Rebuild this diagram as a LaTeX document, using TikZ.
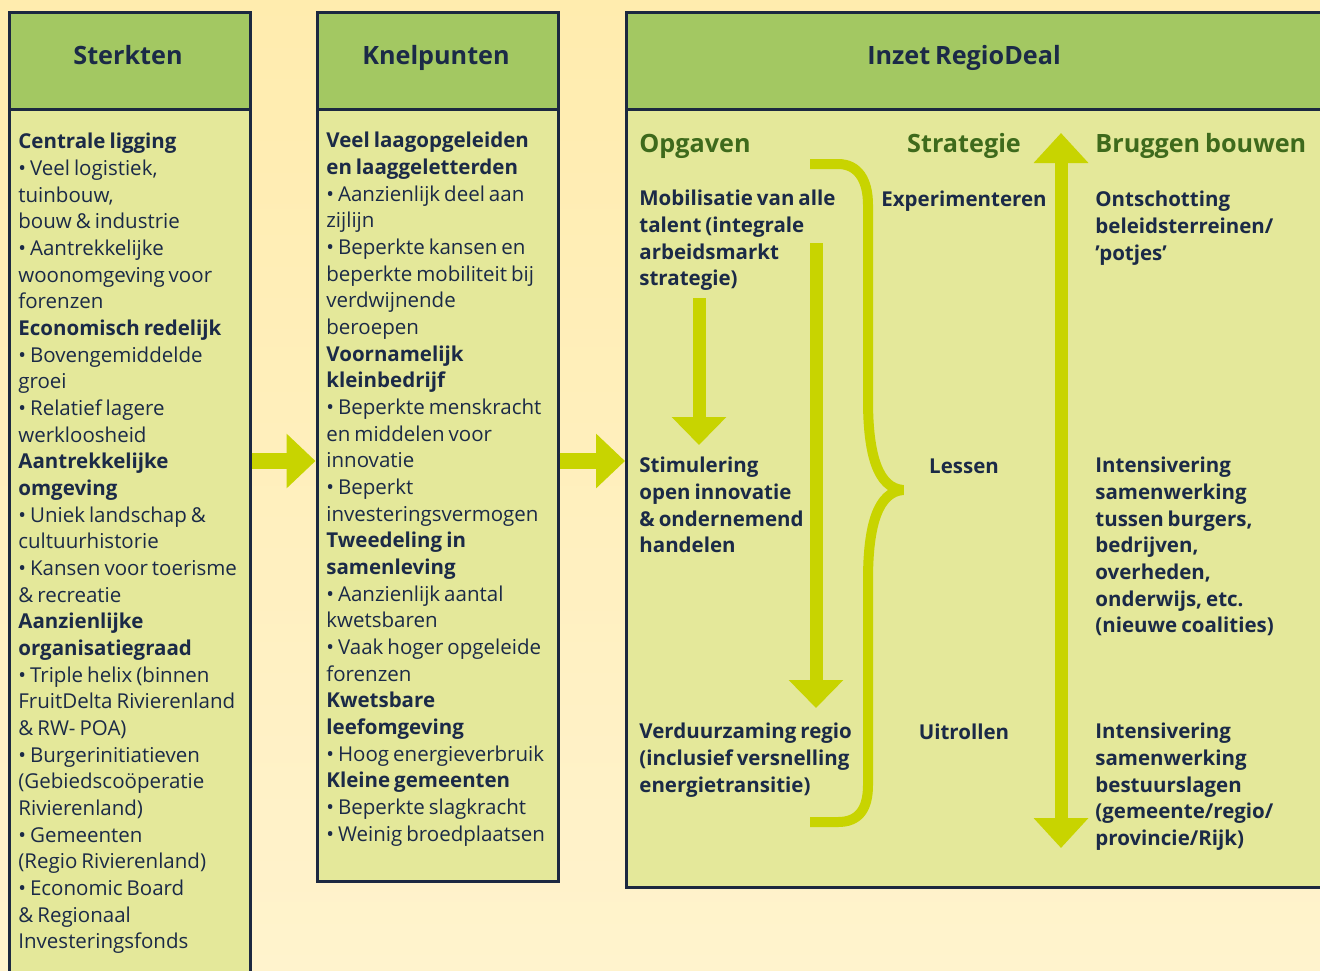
\documentclass[tikz,border=0pt]{standalone}
\usepackage{fontspec}
\setmainfont{Open Sans}[WordSpace=0.75]
\usetikzlibrary{arrows.meta}
\definecolor{achter}{HTML}{FFECAE}
\definecolor{achterlicht}{HTML}{FFF3CD}
\definecolor{kopgroen}{HTML}{A3C862}
\definecolor{vak}{HTML}{E4E89A}
\definecolor{rand}{HTML}{1C2840}
\definecolor{inkt}{HTML}{1B2A47}
\definecolor{blad}{HTML}{3E6A1C}
\definecolor{lime}{HTML}{C8D400}
\tikzset{
  kolom/.style={draw=rand, line width=1.5pt, fill=vak, anchor=north west, inner sep=0pt},
  kopvak/.style={kolom, fill=kopgroen},
  titel/.style={anchor=base, inner sep=0pt, text=inkt, font=\fontsize{12.6}{15}\selectfont\bfseries},
  sub/.style={titel, text=blad},
  tekst/.style={anchor=north west, inner sep=0pt, align=left, text=inkt, font=\fontsize{10.25}{13.33}\selectfont},
  vet/.style={tekst, font=\fontsize{10.25}{13.33}\selectfont\bfseries},
  pijl/.style={draw=lime, line width=8pt, -{Triangle[length=14.5pt,width=26.5pt]}},
  pijlsmal/.style={draw=lime, line width=6.5pt, -{Triangle[length=14pt,width=26.5pt]}},
}

\begin{document}
\begin{tikzpicture}[x=0.5pt,y=-0.5pt]
    \useasboundingbox (0,0) rectangle (1320,970);
    \clip (0,0) rectangle (1320,970);
    \shade[top color=achter, middle color=achter, bottom color=achterlicht] (0,0) rectangle (1320,970);
    % kolommen
    \node[kolom, minimum width=120.5pt, minimum height=494.75pt] (sterk) at (7.5,10.5) {};
    \node[kolom, minimum width=120.5pt, minimum height=434.75pt] (knel) at (315.5,10.5) {};
    \node[kolom, minimum width=352.5pt, minimum height=437.75pt] (inzet) at (625,10.5) {};
    \node[kopvak, minimum width=120.5pt, minimum height=48.5pt] (sterkkop) at (7.5,10.5) {};
    \node[kopvak, minimum width=120.5pt, minimum height=48.5pt] (knelkop) at (315.5,10.5) {};
    \node[kopvak, minimum width=352.5pt, minimum height=48.5pt] (inzetkop) at (625,10.5) {};
    \node[titel] (t1) at (128,64) {Sterkten};
    \node[titel] (t2) at (436,64) {Knelpunten};
    \node[titel] (t3) at (964,64) {Inzet RegioDeal};
    % pijlen tussen de kolommen
    \coordinate (as) at (0,461);
    \draw[pijl] (sterk.east |- as) -- (knel.west |- as);
    \draw[pijl] (knel.east |- as) -- (inzet.west |- as);
    % Sterkten
    \node[tekst] (sterktxt) at (18,133) {\textbf{Centrale ligging}\\
        • Veel logistiek,\\
        tuinbouw,\\
        bouw \& industrie\\
        • Aantrekkelijke\\
        woonomgeving voor\\
        forenzen\\
        \textbf{Economisch redelijk}\\
        • Bovengemiddelde\\
        groei\\
        • Relatief lagere\\
        werkloosheid\\
        \textbf{Aantrekkelijke}\\
        \textbf{omgeving}\\
        • Uniek landschap \&\\
        cultuurhistorie\\
        • Kansen voor toerisme\\
        \& recreatie\\
        \textbf{Aanzienlijke}\\
        \textbf{organisatiegraad}\\
        • Triple helix (binnen\\
        FruitDelta Rivierenland\\
        \& RW- POA)\\
        • Burgerinitiatieven\\
        (Gebiedscoöperatie\\
        Rivierenland)\\
        • Gemeenten\\
        (Regio Rivierenland)\\
        • Economic Board\\
        \& Regionaal\\
        Investeringsfonds};
    % Knelpunten
    \node[tekst] (kneltxt) at (326,132) {\textbf{Veel laagopgeleiden}\\
        \textbf{en laaggeletterden}\\
        • Aanzienlijk deel aan\\
        zijlijn\\
        • Beperkte kansen en\\
        beperkte mobiliteit bij\\
        verdwijnende\\
        beroepen\\
        \textbf{Voornamelijk}\\
        \textbf{kleinbedrijf}\\
        • Beperkte menskracht\\
        en middelen voor\\
        innovatie\\
        • Beperkt\\
        investeringsvermogen\\
        \textbf{Tweedeling in}\\
        \textbf{samenleving}\\
        • Aanzienlijk aantal\\
        kwetsbaren\\
        • Vaak hoger opgeleide\\
        forenzen\\
        \textbf{Kwetsbare}\\
        \textbf{leefomgeving}\\
        • Hoog energieverbruik\\
        \textbf{Kleine gemeenten}\\
        • Beperkte slagkracht\\
        • Weinig broedplaatsen};
    % Inzet RegioDeal
    \node[sub, anchor=base west] (opg) at (639,152) {Opgaven};
    \node[sub] (strat) at (964,152) {Strategie};
    \node[sub, anchor=base west] (brug) at (1095,152) {Bruggen bouwen};
    \node[vet] (mob) at (639,190) {Mobilisatie van alle\\talent (integrale\\arbeidsmarkt\\strategie)};
    \node[vet] (stim) at (639,457) {Stimulering\\open innovatie\\\& ondernemend\\handelen};
    \node[vet] (verd) at (639,723) {Verduurzaming regio\\(inclusief versnelling\\energietransitie)};
    \node[vet, anchor=base] (exp) at (964,206) {Experimenteren};
    \node[vet, anchor=base] (les) at (964,473) {Lessen};
    \node[vet, anchor=base] (uit) at (964,739) {Uitrollen};
    \node[vet] (ont) at (1095,191) {Ontschotting\\beleidsterreinen/\\’potjes’};
    \node[vet] (samen) at (1095,457) {Intensivering\\samenwerking\\tussen burgers,\\bedrijven,\\overheden,\\onderwijs, etc.\\(nieuwe coalities)};
    \node[vet] (bestuur) at (1095,723) {Intensivering\\samenwerking\\bestuurslagen\\(gemeente/regio/\\provincie/Rijk)};
    % pijlen in de opgaven
    \coordinate (m1) at (699,298);
    \coordinate (m1e) at (699,445);
    \coordinate (m2) at (816,243);
    \coordinate (m2e) at (816,708);
    \draw[pijlsmal] (m1) -- (m1e);
    \draw[pijlsmal] (m2) -- (m2e);
    % accolade
    \draw[lime, line width=5pt, miter limit=1] (810,164) -- (838,164) .. controls (858,164) and (868,180) .. (868,205)
        -- (868,400) .. controls (868,455) and (878,488) .. (903,490)
        .. controls (878,492) and (868,525) .. (868,580)
        -- (868,785) .. controls (868,810) and (858,822) .. (838,822) -- (810,822);
    % bruggen bouwen
    \coordinate (b1) at (1061,133);
    \coordinate (b2) at (1061,848);
    \draw[pijlsmal, {Triangle[length=15pt,width=26.5pt]}-{Triangle[length=15pt,width=26.5pt]}] (b1) -- (b2);
\end{tikzpicture}
\end{document}
